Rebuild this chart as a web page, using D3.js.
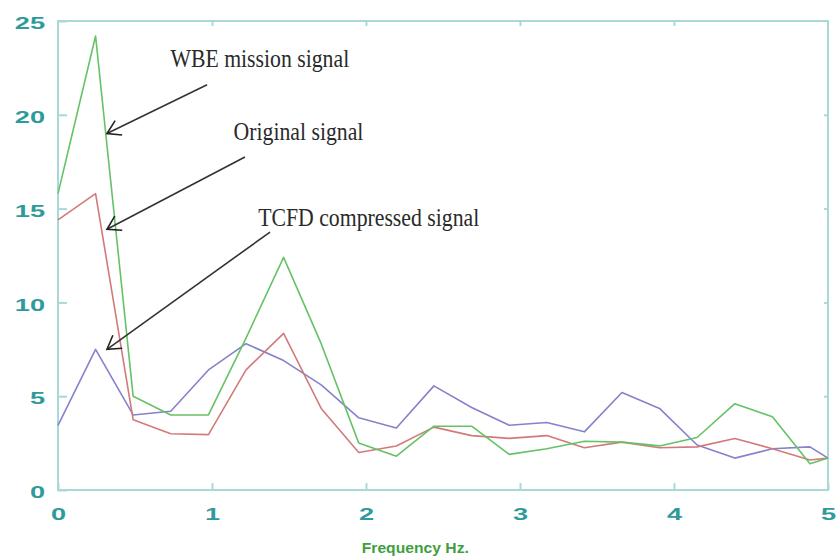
<!DOCTYPE html>
<html>
<head>
<meta charset="utf-8">
<script src="https://cdn.jsdelivr.net/npm/d3@7"></script>
<style>
  body { margin: 0; background: #fff; }
  svg { display: block; }
</style>
</head>
<body>
<div id="chart"></div>
<script>
/* CONSTANTS AND GLOBALS */
const width = 839,
  height = 558,
  margin = { top: 21, bottom: 68, left: 58, right: 11 };

/* DATA */
const freq = [0, 0.244, 0.488, 0.732, 0.977, 1.221, 1.465, 1.709, 1.953, 2.197, 2.441,
  2.686, 2.930, 3.174, 3.418, 3.662, 3.906, 4.150, 4.395, 4.639, 4.883, 5.0];
const wbeSignal = [15.8, 24.2, 5.0, 4.0, 4.0, 8.1, 12.4, 7.8, 2.5, 1.8, 3.4,
  3.4, 1.9, 2.2, 2.6, 2.55, 2.35, 2.8, 4.6, 3.9, 1.4, 1.7];
const originalSignal = [14.4, 15.8, 3.75, 3.0, 2.95, 6.4, 8.35, 4.35, 2.0, 2.35, 3.35,
  2.9, 2.75, 2.9, 2.25, 2.55, 2.25, 2.3, 2.75, 2.2, 1.6, 1.7];
const tcfdSignal = [3.45, 7.5, 4.0, 4.2, 6.4, 7.8, 6.9, 5.6, 3.85, 3.3, 5.55,
  4.4, 3.45, 3.6, 3.1, 5.2, 4.35, 2.4, 1.7, 2.2, 2.3, 1.7];

const xTicks = [0, 1, 2, 3, 4, 5];
const yTicks = [0, 5, 10, 15, 20, 25];
const xTitle = "Frequency Hz.";

// label text, where the text sits and where the arrow points (data units)
const notes = [
  { label: "WBE mission signal", tx: 0.73, ty: 22.55, from: [0.968, 21.6], to: [0.318, 19.0] },
  { label: "Original signal", tx: 1.14, ty: 18.65, from: [1.214, 17.75], to: [0.318, 13.9] },
  { label: "TCFD compressed signal", tx: 1.30, ty: 14.05, from: [1.377, 13.75], to: [0.318, 7.5] },
];

const series = [
  { name: "tcfd", values: tcfdSignal, color: "#8582cc" },
  { name: "original", values: originalSignal, color: "#d27a7a" },
  { name: "wbe", values: wbeSignal, color: "#66c266" },
];

/* SCALES */
const xScale = d3.scaleLinear()
  .domain([0, 5])
  .range([margin.left, width - margin.right]);

const yScale = d3.scaleLinear()
  .domain([0, 25])
  .range([height - margin.bottom, margin.top]);

/* SVG */
const svg = d3.select("#chart")
  .append("svg")
  .attr("width", width)
  .attr("height", height);

const defs = svg.append("defs");
defs.append("marker")
  .attr("id", "head")
  .attr("viewBox", "0 0 18 18")
  .attr("refX", 16)
  .attr("refY", 9)
  .attr("markerWidth", 18)
  .attr("markerHeight", 18)
  .attr("markerUnits", "userSpaceOnUse")
  .attr("orient", "auto")
  .append("path")
  .attr("d", "M3,1 L16,9 L3,17")
  .attr("fill", "none")
  .attr("stroke", "#222")
  .attr("stroke-width", 1.6);

const frameColor = "#a9d8d8",
  labelColor = "#2f9a9a";

/* AXES */
const xAxis = d3.axisBottom(xScale).tickValues(xTicks).tickSize(-7).tickFormat(d3.format("d"));
const yAxis = d3.axisLeft(yScale).tickValues(yTicks).tickSize(-9).tickFormat(d3.format("d"));
const xTop = d3.axisTop(xScale).tickValues(xTicks.slice(1, -1)).tickSize(-5).tickFormat("");
const yRight = d3.axisRight(yScale).tickValues(yTicks.slice(1, -1)).tickSize(-4).tickFormat("");

function styleAxis(g) {
  g.select(".domain").remove();
  g.selectAll(".tick line").attr("stroke", frameColor).attr("stroke-width", 2);
  g.selectAll(".tick text")
    .attr("fill", labelColor)
    .attr("font-family", "Liberation Sans, Arial, sans-serif")
    .attr("font-weight", "bold")
    .attr("font-size", 17);
}

const xAxisGroup = svg.append("g")
  .attr("transform", `translate(0, ${height - margin.bottom})`)
  .call(xAxis)
  .call(styleAxis);
xAxisGroup.selectAll(".tick text")
  .attr("y", 0)
  .attr("dy", "0.71em")
  .attr("transform", "translate(0, 18) scale(1.6, 1)");

const yAxisGroup = svg.append("g")
  .attr("transform", `translate(${margin.left}, 0)`)
  .call(yAxis)
  .call(styleAxis);
yAxisGroup.selectAll(".tick text")
  .attr("x", 0)
  .attr("dy", "0.45em")
  .attr("transform", "translate(-13, 0) scale(1.6, 1)");

svg.append("g")
  .attr("transform", `translate(0, ${margin.top})`)
  .call(xTop)
  .call(styleAxis);

svg.append("g")
  .attr("transform", `translate(${width - margin.right}, 0)`)
  .call(yRight)
  .call(styleAxis);

// frame box
svg.append("rect")
  .attr("x", xScale(0))
  .attr("y", yScale(25))
  .attr("width", xScale(5) - xScale(0))
  .attr("height", yScale(0) - yScale(25))
  .attr("fill", "none")
  .attr("stroke", frameColor)
  .attr("stroke-width", 2);

// axis title
svg.append("text")
  .attr("transform", `translate(${xScale(2.32)}, ${height - 5}) scale(1.12, 1)`)
  .attr("text-anchor", "middle")
  .attr("fill", "#3f9f3f")
  .attr("font-family", "Liberation Sans, Arial, sans-serif")
  .attr("font-weight", "bold")
  .attr("font-size", 14)
  .text(xTitle);

/* LINES */
const lineGen = d3.line()
  .x((d, i) => xScale(freq[i]))
  .y(d => yScale(d));

svg.selectAll("path.line")
  .data(series)
  .join("path")
  .attr("class", "line")
  .attr("d", d => lineGen(d.values))
  .attr("fill", "none")
  .attr("stroke", d => d.color)
  .attr("stroke-width", 1.6)
  .attr("stroke-linejoin", "round");

/* ANNOTATIONS */
svg.selectAll("line.arrow")
  .data(notes)
  .join("line")
  .attr("class", "arrow")
  .attr("x1", d => xScale(d.from[0]))
  .attr("y1", d => yScale(d.from[1]))
  .attr("x2", d => xScale(d.to[0]))
  .attr("y2", d => yScale(d.to[1]))
  .attr("stroke", "#333")
  .attr("stroke-width", 1.6)
  .attr("marker-end", "url(#head)");

svg.selectAll("text.note")
  .data(notes)
  .join("text")
  .attr("class", "note")
  .attr("transform", d => `translate(${xScale(d.tx)}, ${yScale(d.ty)}) scale(0.87, 1)`)
  .attr("fill", "#2a2a2a")
  .attr("font-family", "Liberation Serif, Times New Roman, serif")
  .attr("font-size", 25)
  .text(d => d.label);
</script>
</body>
</html>
